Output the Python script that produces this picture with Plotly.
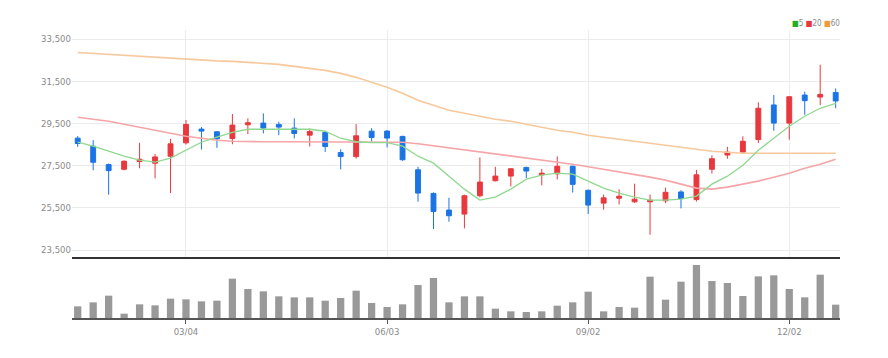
import plotly.graph_objects as go

dates = ["2024-01-15", "2024-01-22", "2024-01-29", "2024-02-05", "2024-02-12", "2024-02-19",
         "2024-02-26", "2024-03-04", "2024-03-11", "2024-03-18", "2024-03-25", "2024-04-01",
         "2024-04-08", "2024-04-15", "2024-04-22", "2024-04-29", "2024-05-06", "2024-05-13",
         "2024-05-20", "2024-05-27", "2024-06-03", "2024-06-10", "2024-06-17", "2024-06-24",
         "2024-07-01", "2024-07-08", "2024-07-15", "2024-07-22", "2024-07-29", "2024-08-05",
         "2024-08-12", "2024-08-19", "2024-08-26", "2024-09-02", "2024-09-09", "2024-09-16",
         "2024-09-23", "2024-09-30", "2024-10-07", "2024-10-14", "2024-10-21", "2024-10-28",
         "2024-11-04", "2024-11-11", "2024-11-18", "2024-11-25", "2024-12-02", "2024-12-09",
         "2024-12-16", "2024-12-23"]

open_ = [28802, 28421, 27548, 27326, 27691, 27611, 27945, 28580, 29230, 29103,
         28785, 29436, 29516, 29452, 29277, 28944, 29071, 28117, 27926, 29134,
         29137, 28884, 27304, 26182, 25392, 25202, 26071, 26782, 27004, 27414,
         27063, 27110, 27469, 26330, 25722, 25956, 25784, 25784, 25831, 26252,
         25889, 27327, 28000, 28140, 28733, 30375, 29515, 30844, 30750, 30969]
high = [28897, 28706, 27595, 27750, 28580, 28056, 28770, 29659, 29325, 29135,
        29945, 29739, 29977, 29580, 29739, 29262, 29150, 28276, 29468, 29277,
        29184, 28916, 27446, 26230, 25977, 26119, 27888, 27446, 27383, 27446,
        27344, 27937, 27500, 26361, 26127, 26377, 26642, 26127, 26455, 26330,
        27296, 27983, 28390, 28890, 30500, 30844, 30765, 31000, 32282, 31156]
low = [28389, 27278, 26120, 27280, 27373, 26897, 26199, 28500, 28262, 28341,
       28514, 28991, 29023, 28944, 28785, 28403, 28149, 27322, 27830, 28641,
       28362, 27730, 25787, 24491, 24839, 24523, 25992, 26750, 26514, 26909,
       26564, 26845, 26221, 25207, 25410, 25659, 25722, 24224, 25722, 25472,
       25795, 27124, 27827, 28108, 28577, 29155, 28733, 29906, 30375, 30218]
close = [28548, 27659, 27262, 27707, 27802, 27913, 28532, 29452, 29135, 28770,
         29420, 29532, 29277, 29325, 29023, 29118, 28403, 27926, 28912, 28832,
         28805, 27778, 26198, 25329, 25123, 26071, 26719, 27004, 27351, 27241,
         27141, 27469, 26611, 25628, 25971, 26049, 25909, 25862, 26236, 25940,
         27061, 27827, 28140, 28655, 30218, 29515, 30765, 30578, 30875, 30562]

volume = [35, 47, 67, 13, 41, 38, 58, 56, 50, 52,
          118, 87, 80, 65, 62, 62, 52, 60, 82, 45,
          33, 41, 99, 120, 47, 65, 65, 28, 20, 18,
          20, 37, 47, 79, 20, 33, 31, 124, 55, 109,
          159, 111, 105, 66, 125, 128, 87, 62, 130, 40]

ma5 = [28608, 28419, 28183, 27946, 27757, 27662, 27852, 28230, 28608, 28845,
       29081, 29223, 29223, 29223, 29223, 29223, 29129, 28798, 28632, 28585,
       28585, 28419, 27946, 27615, 27000, 26385, 25865, 26007, 26385, 26858,
       27048, 27142, 27095, 26764, 26433, 26196, 26007, 25865, 25865, 25912,
       26054, 26622, 27000, 27521, 28230, 28798, 29365, 29838, 30217, 30453]
ma20 = [29791, 29696, 29602, 29460, 29318, 29176, 29034, 28892, 28798, 28703,
        28656, 28632, 28632, 28632, 28632, 28632, 28632, 28632, 28632, 28632,
        28632, 28608, 28537, 28443, 28348, 28253, 28159, 28064, 27970, 27875,
        27757, 27662, 27568, 27450, 27331, 27213, 27095, 26953, 26811, 26622,
        26433, 26385, 26480, 26622, 26764, 26953, 27142, 27379, 27568, 27804]
ma60 = [32865, 32818, 32771, 32724, 32676, 32629, 32582, 32534, 32487, 32464,
        32440, 32392, 32345, 32298, 32203, 32109, 32014, 31872, 31683, 31446,
        31210, 30926, 30595, 30359, 30122, 29980, 29838, 29696, 29602, 29460,
        29318, 29176, 29081, 28940, 28845, 28750, 28656, 28561, 28467, 28372,
        28277, 28183, 28135, 28088, 28088, 28088, 28088, 28088, 28088, 28088]

price_ticks = [23500, 25500, 27500, 29500, 31500, 33500]
x_tick_dates = ["2024-03-04", "2024-06-03", "2024-09-02", "2024-12-02"]
x_tick_labels = ["03/04", "06/03", "09/02", "12/02"]

RED = "#e8383d"
BLUE = "#1b74e4"
FONT = "Liberation Sans Narrow, DejaVu Sans Condensed, Roboto, sans-serif"

fig = go.Figure()

fig.add_trace(go.Scatter(x=dates, y=ma60, mode="lines", line=dict(color="#f7c89c", width=1.6),
                         xaxis="x", yaxis="y", showlegend=False, hoverinfo="skip"))
fig.add_trace(go.Scatter(x=dates, y=ma20, mode="lines", line=dict(color="#f5a5a8", width=1.6),
                         xaxis="x", yaxis="y", showlegend=False, hoverinfo="skip"))
fig.add_trace(go.Scatter(x=dates, y=ma5, mode="lines", line=dict(color="#8fd88f", width=1.3),
                         xaxis="x", yaxis="y", showlegend=False, hoverinfo="skip"))

fig.add_trace(go.Candlestick(
    x=dates, open=open_, high=high, low=low, close=close,
    increasing=dict(line=dict(color=RED, width=1), fillcolor=RED),
    decreasing=dict(line=dict(color=BLUE, width=1), fillcolor=BLUE),
    whiskerwidth=0, xaxis="x", yaxis="y", showlegend=False))

fig.add_trace(go.Bar(x=dates, y=volume, marker=dict(color="#999999", line=dict(width=0)),
                     width=0.47 * 7 * 86400000, xaxis="x2", yaxis="y2", showlegend=False))

x_range = ["2024-01-12 10:00", "2024-12-24 23:00"]

# the page body adds an 8px margin, so the figure is 8px smaller and margins shifted
fig.update_layout(
    width=880, height=350,
    margin=dict(l=64, r=48, t=22, b=40),
    paper_bgcolor="white", plot_bgcolor="white",
    boxgap=0.55,
    font=dict(family=FONT, size=10, color="#888888"),
    xaxis=dict(domain=[0, 1], anchor="y", type="date", range=x_range,
               rangeslider=dict(visible=False),
               tickvals=x_tick_dates, showticklabels=False,
               showgrid=True, gridcolor="#ececec", gridwidth=1,
               showline=True, linecolor="#333333", linewidth=2,
               ticks="", zeroline=False),
    yaxis=dict(domain=[0.2118, 1], anchor="x", range=[23168, 33928],
               tickvals=price_ticks, tickformat=",d",
               showgrid=True, gridcolor="#ececec", gridwidth=1,
               zeroline=False, showline=False, ticks="",
               tickfont=dict(family=FONT, size=9.5, color="#8a8a8a")),
    xaxis2=dict(domain=[0, 1], anchor="y2", type="date", range=x_range, matches="x",
                tickvals=x_tick_dates, ticktext=x_tick_labels,
                showgrid=False, showline=True, linecolor="#555555", linewidth=1.5,
                ticks="outside", ticklen=4, tickcolor="#555555", tickwidth=1,
                tickfont=dict(family=FONT, size=9.5, color="#8a8a8a"), zeroline=False),
    yaxis2=dict(domain=[0, 0.2083], anchor="x2", range=[0, 180],
                showgrid=False, showticklabels=False, zeroline=False, showline=False),
    annotations=[dict(
        xref="paper", yref="paper", x=1.003, y=1.021, xanchor="right", yanchor="middle",
        showarrow=False,
        text=('<span style="color:#22b022">■</span>5 '
              '<span style="color:#e8383d">■</span>20 '
              '<span style="color:#f09a38">■</span>60'),
        font=dict(family=FONT, size=8, color="#8a8a8a"))],
)

fig.write_html("out.html")
